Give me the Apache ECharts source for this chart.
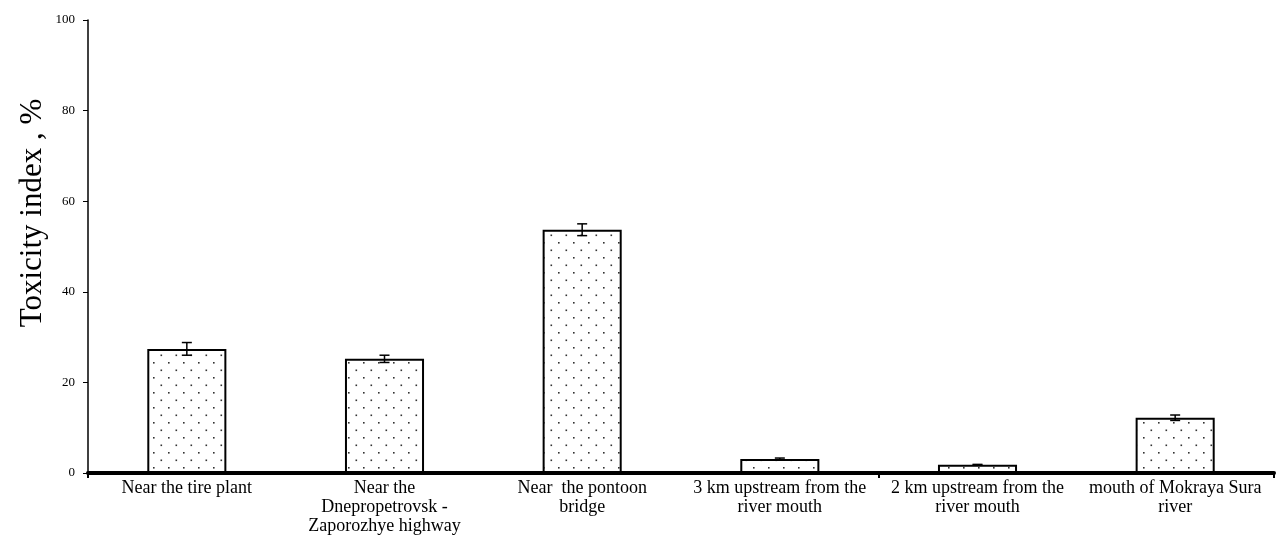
<!DOCTYPE html>
<html>
<head>
<meta charset="utf-8">
<title>Toxicity index</title>
<script src="https://cdn.jsdelivr.net/npm/echarts@6/dist/echarts.min.js"></script>
<style>
  html, body { margin: 0; padding: 0; background: #fff; }
  #chart { width: 1278px; height: 552px; }
</style>
</head>
<body>
<div id="chart"></div>
<script>
  // 数据
  const categories = [
    'Near the tire plant',
    'Near the\nDnepropetrovsk -\nZaporozhye highway',
    'Near  the pontoon\nbridge',
    '3 km upstream from the\nriver mouth',
    '2 km upstream from the\nriver mouth',
    'mouth of Mokraya Sura\nriver'
  ];
  const toxicity = [27.4, 25.2, 53.7, 3.1, 1.8, 12.2];
  const errors = [1.4, 0.8, 1.3, 0.2, 0.1, 0.6];
  const yTicks = [0, 20, 40, 60, 80, 100];

  // 点状填充
  function dotPattern() {
    const c = document.createElement('canvas');
    c.width = 15; c.height = 15;
    const ctx = c.getContext('2d');
    ctx.fillStyle = '#fff';
    ctx.fillRect(0, 0, 15, 15);
    ctx.fillStyle = '#333';
    ctx.fillRect(3, 2, 1.6, 1.6);
    ctx.fillRect(10.5, 9.5, 1.6, 1.6);
    return c;
  }

  const font = '"Liberation Serif", "Times New Roman", serif';
  const chart = echarts.init(document.getElementById('chart'));

  chart.setOption({
    animation: false,
    backgroundColor: '#fff',
    grid: { left: 88, right: 4, top: 20, bottom: 79, containLabel: false },
    xAxis: {
      type: 'category',
      data: categories,
      axisLine: { lineStyle: { color: '#000', width: 4 } },
      axisTick: {
        show: true, length: 5, lineStyle: { color: '#000', width: 2 },
        interval: (i) => i === 0 || i === 4
      },
      axisLabel: {
        interval: 0, color: '#000', fontFamily: font, fontSize: 18,
        lineHeight: 19, margin: 6, hideOverlap: false
      }
    },
    yAxis: {
      type: 'value',
      min: yTicks[0],
      max: yTicks[yTicks.length - 1],
      interval: 20,
      splitLine: { show: false },
      axisLine: { show: true, lineStyle: { color: '#000', width: 1.5 } },
      axisTick: { show: true, length: 5, lineStyle: { color: '#000', width: 1 } },
      axisLabel: { color: '#000', fontFamily: font, fontSize: 13, margin: 13 }
    },
    graphic: [{
      type: 'text',
      x: 33, y: 213,
      rotation: Math.PI / 2,
      style: {
        text: 'Toxicity index , %',
        fontFamily: font, fontSize: 31, fill: '#000',
        align: 'center', verticalAlign: 'middle'
      }
    }],
    series: [
      {
        type: 'bar',
        data: toxicity,
        barWidth: '40%',
        itemStyle: {
          color: { image: dotPattern(), repeat: 'repeat' },
          borderColor: '#000',
          borderWidth: 2
        },
        z: 2
      },
      {
        type: 'custom',
        data: toxicity.map((v, i) => [i, v - errors[i], v + errors[i]]),
        z: 5,
        renderItem: (params, api) => {
          const lo = api.coord([api.value(0), api.value(1)]);
          const hi = api.coord([api.value(0), api.value(2)]);
          const half = 5;
          const st = { stroke: '#000', lineWidth: 1.5 };
          return {
            type: 'group',
            children: [
              { type: 'line', shape: { x1: hi[0], y1: hi[1], x2: lo[0], y2: lo[1] }, style: st },
              { type: 'line', shape: { x1: hi[0] - half, y1: hi[1], x2: hi[0] + half, y2: hi[1] }, style: st },
              { type: 'line', shape: { x1: lo[0] - half, y1: lo[1], x2: lo[0] + half, y2: lo[1] }, style: st }
            ]
          };
        }
      }
    ]
  });
</script>
</body>
</html>
